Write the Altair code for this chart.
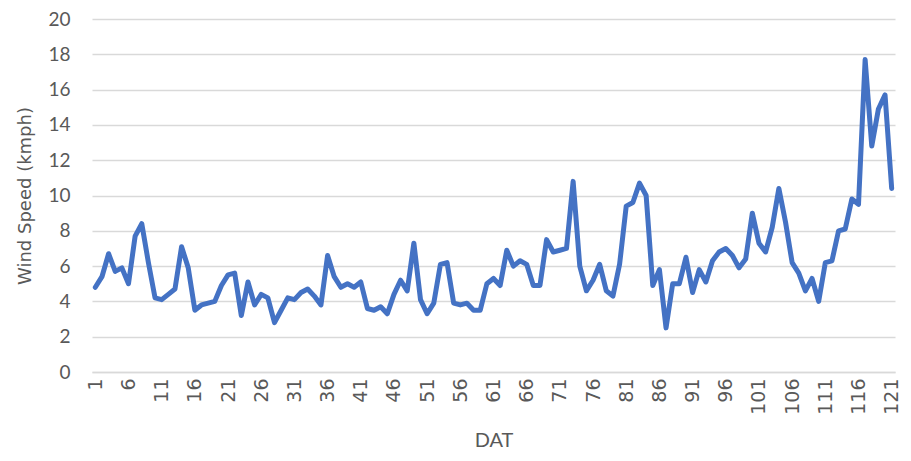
import altair as alt
import pandas as pd

dat = list(range(1, 122))
wind_speed = [
    4.8, 5.4, 6.7, 5.7, 5.9, 5.0, 7.7, 8.4, 6.2, 4.2,
    4.1, 4.4, 4.7, 7.1, 5.9, 3.5, 3.8, 3.9, 4.0, 4.9,
    5.5, 5.6, 3.2, 5.1, 3.8, 4.4, 4.2, 2.8, 3.5, 4.2,
    4.1, 4.5, 4.7, 4.3, 3.8, 6.6, 5.4, 4.8, 5.0, 4.8,
    5.1, 3.6, 3.5, 3.7, 3.3, 4.4, 5.2, 4.6, 7.3, 4.1,
    3.3, 3.9, 6.1, 6.2, 3.9, 3.8, 3.9, 3.5, 3.5, 5.0,
    5.3, 4.9, 6.9, 6.0, 6.3, 6.1, 4.9, 4.9, 7.5, 6.8,
    6.9, 7.0, 10.8, 6.0, 4.6, 5.2, 6.1, 4.6, 4.3, 6.1,
    9.4, 9.6, 10.7, 10.0, 4.9, 5.8, 2.5, 5.0, 5.0, 6.5,
    4.5, 5.8, 5.1, 6.3, 6.8, 7.0, 6.6, 5.9, 6.4, 9.0,
    7.3, 6.8, 8.2, 10.4, 8.5, 6.2, 5.6, 4.6, 5.3, 4.0,
    6.2, 6.3, 8.0, 8.1, 9.8, 9.5, 17.7, 12.8, 14.9, 15.7,
    10.4,
]
x_ticks = list(range(1, 122, 5))
y_ticks = list(range(0, 21, 2))

df = pd.DataFrame({"DAT": dat, "Wind": wind_speed})

font = "Lato"
wide = "DejaVu Sans"
grey = "#595959"

chart = (
    alt.Chart(df)
    .mark_line(color="#4472C4", strokeWidth=5, strokeCap="round", strokeJoin="round")
    .encode(
        x=alt.X(
            "DAT:Q",
            scale=alt.Scale(domain=[0.5, 121.5], nice=False, zero=False),
            axis=alt.Axis(
                title="DAT",
                values=x_ticks,
                labelAngle=270,
                labelAlign="right",
                labelBaseline="middle",
                labelFontSize=19,
                labelColor=grey,
                labelFont=wide,
                labelPadding=6,
                ticks=False,
                grid=False,
                domainColor="#d9d9d9",
                domainWidth=1.5,
                titleFont="'Liberation Sans Narrow', Lato",
                titleFontSize=20,
                titleFontWeight="normal",
                titleColor=grey,
                titlePadding=16,
                labelOverlap=False,
            ),
        ),
        y=alt.Y(
            "Wind:Q",
            scale=alt.Scale(domain=[0, 20], nice=False),
            axis=alt.Axis(
                title="Wind Speed (kmph)",
                values=y_ticks,
                labelFontSize=19,
                labelColor=grey,
                labelFont=font,
                labelPadding=22,
                ticks=False,
                domain=False,
                gridColor="#d9d9d9",
                gridWidth=1.5,
                titleFont=wide,
                titleFontSize=18,
                titleFontWeight="normal",
                titleColor=grey,
                titlePadding=13,
            ),
        ),
    )
    .properties(
        width=803,
        height=353,
        autosize=alt.AutoSizeParams(type="none"),
        padding={"left": 84, "top": 11, "right": 8, "bottom": 80},
    )
    .configure_view(stroke=None)
)

chart.save("out.html", embed_options={"renderer": "svg", "actions": False})
